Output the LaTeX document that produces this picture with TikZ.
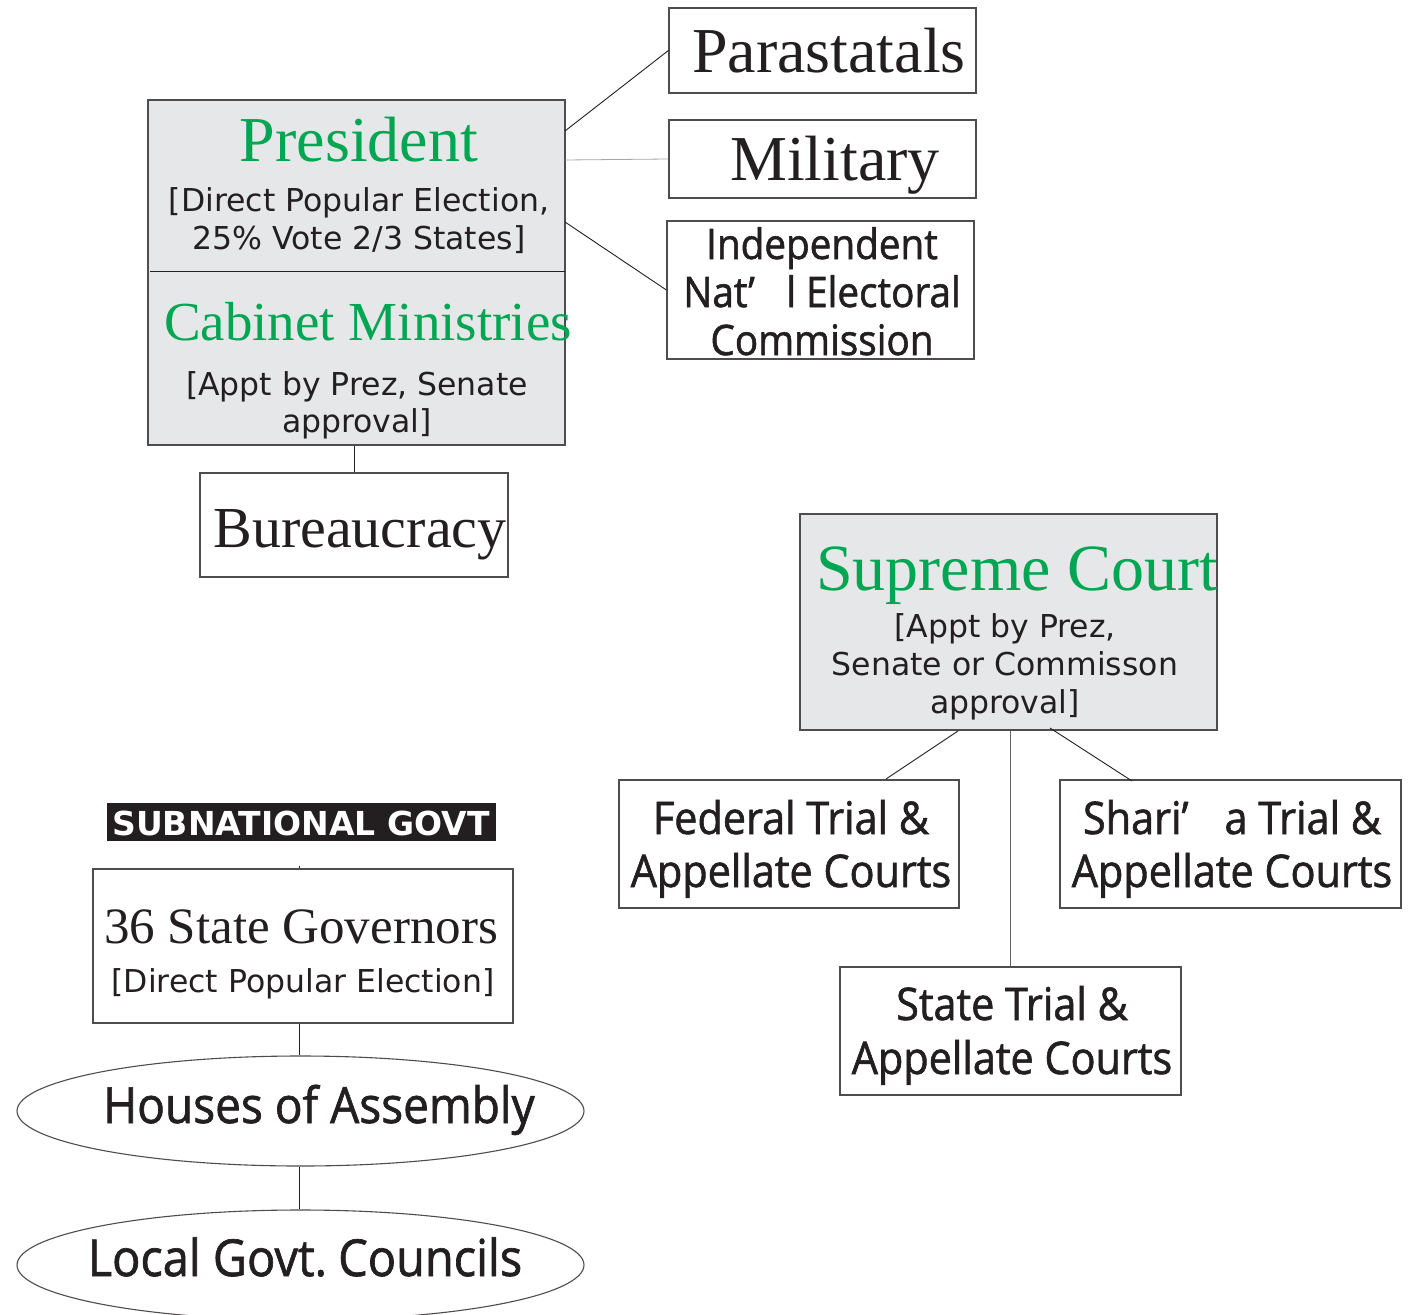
\documentclass[tikz,border=0pt]{standalone}
\usepackage{fontspec}
\usetikzlibrary{shapes.geometric}
\setmainfont{Liberation Serif}
\newfontfamily\vsans{DejaVu Sans}
\newfontfamily\cond[FakeStretch=0.92,FakeBold=1.3]{Open Sans}
\definecolor{grn}{HTML}{00A651}
\definecolor{fillg}{HTML}{E6E7E8}
\definecolor{ink}{HTML}{231F20}
\begin{document}
\begin{tikzpicture}[x=1pt,y=-1pt,
  box/.style={draw=ink!80, line width=1.2pt, inner sep=0pt, rectangle},
  gbox/.style={box, fill=fillg},
  oval/.style={draw=ink!80, line width=1.1pt, ellipse, inner sep=0pt},
  conn/.style={draw=ink, line width=0.9pt},
  serifT/.style={anchor=base, inner sep=0pt, text=ink, font=\fontsize{#1}{#1}\selectfont},
  greenT/.style={anchor=base, inner sep=0pt, text=grn, font=\fontsize{#1}{#1}\selectfont},
  vT/.style={anchor=base, inner sep=0pt, text=ink, align=center, font=\vsans\fontsize{#1}{38}\selectfont},
  cT/.style={anchor=base, inner sep=0pt, text=ink, font=\cond\fontsize{#1}{#1}\selectfont},
]
\useasboundingbox (0,0) rectangle (1413,1314);
\fill[white] (0,0) rectangle (1413,1314);

% executive
\node[gbox, minimum width=417pt, minimum height=345pt] (pres) at (356.5,272.5) {};
\coordinate (divL) at (150,271);
\coordinate (divR) at (565,271);
\draw[conn] (divL) -- (divR);
\node[greenT=64] (tpres) at (359,161) {President};
\node[vT=31.5] (tpres1) at (359,211) {[Direct Popular Election,};
\node[vT=31.5] (tpres2) at (359,249) {25\% Vote 2/3 States]};
\node[greenT=55] (tcab) at (368,340) {Cabinet Ministries};
\node[vT=31.5] (tcab1) at (357,395) {[Appt by Prez, Senate};
\node[vT=31.5] (tcab2) at (357,432) {approval]};

\node[box, minimum width=307pt, minimum height=85pt] (para) at (822.5,50.5) {};
\node[serifT=64] (tpara) at (829,73) {Parastatals};
\node[box, minimum width=307pt, minimum height=78pt] (mil) at (822.5,159) {};
\node[serifT=64] (tmil) at (835,180) {Military};
\node[box, minimum width=307pt, minimum height=138pt] (inec) at (820.5,290) {};
\node[cT=42] (tinec1) at (822,259) {Independent};
\node[cT=42] (tinec2) at (822,307) {Nat’\hspace{0.75em}l Electoral};
\node[cT=42] (tinec3) at (822,355) {Commission};

\node[box, minimum width=308pt, minimum height=104pt] (bur) at (354,525) {};
\node[serifT=58] (tbur) at (360,547) {Bureaucracy};

\coordinate (pp) at (565,131);
\coordinate (pm) at (565,160);
\coordinate (pi) at (565,222);
\draw[conn] (pp) -- (para.west);
\draw[draw=gray!70, line width=0.8pt] (pm) -- (mil.west);
\draw[conn] (pi) -- (inec.west);
\draw[conn] (bur.north |- pres.south) -- (bur.north);

% judiciary
\node[gbox, minimum width=417pt, minimum height=216pt] (sc) at (1008.5,622) {};
\node[greenT=66] (tsc) at (1017,590) {Supreme Court};
\node[vT=31.5] (tsc1) at (1005,637) {[Appt by Prez,};
\node[vT=31.5] (tsc2) at (1005,675) {Senate or Commisson};
\node[vT=31.5] (tsc3) at (1005,713) {approval]};

\node[box, minimum width=340pt, minimum height=128pt] (fed) at (789,844) {};
\node[cT=45] (tfed1) at (791,834) {Federal Trial \&};
\node[cT=45] (tfed2) at (791,887) {Appellate Courts};
\node[box, minimum width=341pt, minimum height=128pt] (shar) at (1230.5,844) {};
\node[cT=45] (tshar1) at (1232,834) {Shari’\hspace{0.8em}a Trial \&};
\node[cT=45] (tshar2) at (1232,887) {Appellate Courts};
\node[box, minimum width=341pt, minimum height=128pt] (state) at (1010.5,1031) {};
\node[cT=45] (tstate1) at (1012,1020) {State Trial \&};
\node[cT=45] (tstate2) at (1012,1074) {Appellate Courts};

\coordinate (sf) at (958,731);
\coordinate (fe) at (886,779);
\coordinate (ss) at (1050,728);
\coordinate (se) at (1132,781);
\draw[conn] (sf) -- (fe);
\draw[conn] (ss) -- (se);
\draw[conn, draw=ink!70] (sc.south -| state.north) -- (state.north);

% subnational
\node[fill=ink, minimum width=389pt, minimum height=38pt, inner sep=0pt] (sub) at (301.5,822) {};
\node[anchor=base, inner sep=0pt, text=white, font=\vsans\bfseries\fontsize{33}{33}\selectfont] (tsub) at (301,835) {SUBNATIONAL GOVT};
\node[box, minimum width=420pt, minimum height=154pt] (gov) at (303,946) {};
\node[serifT=51] (tgov) at (301,943) {36 State Governors};
\node[vT=31.5] (tgov1) at (303,992) {[Direct Popular Election]};
\coordinate (tick) at (299,866);
\draw[conn, line width=0.6pt] (tick) -- (tick |- gov.north);

\node[oval, minimum width=567pt, minimum height=110pt] (hoa) at (300.5,1111) {};
\node[cT=50] (thoa) at (319,1123) {Houses of Assembly};
\node[oval, minimum width=567pt, minimum height=110pt] (lgc) at (300.5,1265) {};
\node[cT=51] (tlgc) at (305,1276) {Local Govt.\hspace{-0.1em} Councils};

\draw[conn] (gov.south -| tick) -- (hoa.north -| tick);
\draw[conn] (hoa.south -| tick) -- (lgc.north -| tick);
\end{tikzpicture}
\end{document}
